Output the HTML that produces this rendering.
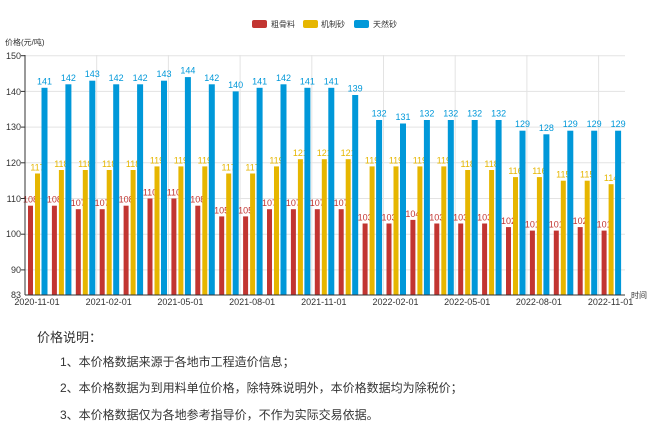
<!DOCTYPE html>
<html><head><meta charset="utf-8"><style>
body{margin:0;background:#fff;width:650px;height:430px;overflow:hidden;font-family:"Liberation Sans","Noto Sans CJK SC",sans-serif}
svg{position:absolute;left:0;top:0}
.t{position:absolute;color:#333;font-family:"Liberation Sans","Noto Sans CJK SC",sans-serif}
</style></head><body>
<svg width="650" height="320" font-family="Liberation Sans, Noto Sans CJK SC, sans-serif">
<rect x="252" y="20" width="15" height="8" rx="2" fill="#c23531"/><text x="271" y="27" font-size="8" fill="#333">粗骨料</text>
<rect x="303" y="20" width="15" height="8" rx="2" fill="#e6b600"/><text x="321" y="27" font-size="8" fill="#333">机制砂</text>
<rect x="354" y="20" width="15" height="8" rx="2" fill="#0098d9"/><text x="373" y="27" font-size="8" fill="#333">天然砂</text>
<text x="5" y="45" font-size="8" fill="#333">价格(元/吨)</text>
<g stroke="#e3e3e3" stroke-width="1">
<line x1="25" x2="625" y1="55.7" y2="55.7"/><line x1="25" x2="625" y1="91.4" y2="91.4"/><line x1="25" x2="625" y1="127.1" y2="127.1"/><line x1="25" x2="625" y1="162.8" y2="162.8"/><line x1="25" x2="625" y1="198.5" y2="198.5"/><line x1="25" x2="625" y1="234.2" y2="234.2"/><line x1="25" x2="625" y1="269.9" y2="269.9"/>
<line x1="96.7" x2="96.7" y1="55" y2="295"/><line x1="168.4" x2="168.4" y1="55" y2="295"/><line x1="240.1" x2="240.1" y1="55" y2="295"/><line x1="311.8" x2="311.8" y1="55" y2="295"/><line x1="383.5" x2="383.5" y1="55" y2="295"/><line x1="455.2" x2="455.2" y1="55" y2="295"/><line x1="526.9" x2="526.9" y1="55" y2="295"/><line x1="598.6" x2="598.6" y1="55" y2="295"/>
</g>
<g font-size="9" fill="#333" text-anchor="end">
<text x="21" y="59">150</text><text x="21" y="95">140</text><text x="21" y="130">130</text><text x="21" y="166">120</text><text x="21" y="202">110</text><text x="21" y="237">100</text><text x="21" y="273">90</text><text x="21" y="298">83</text>
</g>
<g font-size="9" fill="#333" text-anchor="middle">
<text x="37" y="305">2020-11-01</text><text x="108.7" y="305">2021-02-01</text><text x="180.4" y="305">2021-05-01</text><text x="252.1" y="305">2021-08-01</text><text x="323.8" y="305">2021-11-01</text><text x="395.5" y="305">2022-02-01</text><text x="467.2" y="305">2022-05-01</text><text x="538.9" y="305">2022-08-01</text><text x="610.6" y="305">2022-11-01</text>
</g>
<text x="631" y="298" font-size="8" fill="#333">时间</text>
<!-- red -->
<g fill="#c23531">
<rect x="28" y="205.7" width="5" height="89.3"/><rect x="51.9" y="205.7" width="5" height="89.3"/><rect x="75.8" y="209.2" width="5" height="85.8"/><rect x="99.7" y="209.2" width="5" height="85.8"/><rect x="123.6" y="205.7" width="5" height="89.3"/><rect x="147.5" y="198.5" width="5" height="96.5"/><rect x="171.4" y="198.5" width="5" height="96.5"/><rect x="195.3" y="205.7" width="5" height="89.3"/><rect x="219.2" y="216.4" width="5" height="78.6"/><rect x="243.1" y="216.4" width="5" height="78.6"/><rect x="267" y="209.2" width="5" height="85.8"/><rect x="290.9" y="209.2" width="5" height="85.8"/><rect x="314.8" y="209.2" width="5" height="85.8"/><rect x="338.7" y="209.2" width="5" height="85.8"/><rect x="362.6" y="223.5" width="5" height="71.5"/><rect x="386.5" y="223.5" width="5" height="71.5"/><rect x="410.4" y="219.9" width="5" height="75.1"/><rect x="434.3" y="223.5" width="5" height="71.5"/><rect x="458.2" y="223.5" width="5" height="71.5"/><rect x="482.1" y="223.5" width="5" height="71.5"/><rect x="506" y="227.1" width="5" height="67.9"/><rect x="529.9" y="230.6" width="5" height="64.4"/><rect x="553.8" y="230.6" width="5" height="64.4"/><rect x="577.7" y="227.1" width="5" height="67.9"/><rect x="601.6" y="230.6" width="5" height="64.4"/>
</g>
<g fill="#c23531" font-size="9" text-anchor="middle">
<text x="30.5" y="202.7">108</text><text x="54.4" y="202.7">108</text><text x="78.3" y="206.2">107</text><text x="102.2" y="206.2">107</text><text x="126.1" y="202.7">108</text><text x="150" y="195.5">110</text><text x="173.9" y="195.5">110</text><text x="197.8" y="202.7">108</text><text x="221.7" y="213.4">105</text><text x="245.6" y="213.4">105</text><text x="269.5" y="206.2">107</text><text x="293.4" y="206.2">107</text><text x="317.3" y="206.2">107</text><text x="341.2" y="206.2">107</text><text x="365.1" y="220.5">103</text><text x="389" y="220.5">103</text><text x="412.9" y="216.9">104</text><text x="436.8" y="220.5">103</text><text x="460.7" y="220.5">103</text><text x="484.6" y="220.5">103</text><text x="508.5" y="224.1">102</text><text x="532.4" y="227.6">101</text><text x="556.3" y="227.6">101</text><text x="580.2" y="224.1">102</text><text x="604.1" y="227.6">101</text>
</g>
<!-- yellow -->
<g fill="#e6b600">
<rect x="35" y="173.5" width="5" height="121.5"/><rect x="58.9" y="170" width="5" height="125"/><rect x="82.8" y="170" width="5" height="125"/><rect x="106.7" y="170" width="5" height="125"/><rect x="130.6" y="170" width="5" height="125"/><rect x="154.5" y="166.4" width="5" height="128.6"/><rect x="178.4" y="166.4" width="5" height="128.6"/><rect x="202.3" y="166.4" width="5" height="128.6"/><rect x="226.2" y="173.5" width="5" height="121.5"/><rect x="250.1" y="173.5" width="5" height="121.5"/><rect x="274" y="166.4" width="5" height="128.6"/><rect x="297.9" y="159.2" width="5" height="135.8"/><rect x="321.8" y="159.2" width="5" height="135.8"/><rect x="345.7" y="159.2" width="5" height="135.8"/><rect x="369.6" y="166.4" width="5" height="128.6"/><rect x="393.5" y="166.4" width="5" height="128.6"/><rect x="417.4" y="166.4" width="5" height="128.6"/><rect x="441.3" y="166.4" width="5" height="128.6"/><rect x="465.2" y="170" width="5" height="125"/><rect x="489.1" y="170" width="5" height="125"/><rect x="513" y="177.1" width="5" height="117.9"/><rect x="536.9" y="177.1" width="5" height="117.9"/><rect x="560.8" y="180.7" width="5" height="114.3"/><rect x="584.7" y="180.7" width="5" height="114.3"/><rect x="608.6" y="184.2" width="5" height="110.8"/>
</g>
<g fill="#e6b600" font-size="9" text-anchor="middle">
<text x="37.5" y="170.5">117</text><text x="61.4" y="167">118</text><text x="85.3" y="167">118</text><text x="109.2" y="167">118</text><text x="133.1" y="167">118</text><text x="157" y="163.4">119</text><text x="180.9" y="163.4">119</text><text x="204.8" y="163.4">119</text><text x="228.7" y="170.5">117</text><text x="252.6" y="170.5">117</text><text x="276.5" y="163.4">119</text><text x="300.4" y="156.2">121</text><text x="324.3" y="156.2">121</text><text x="348.2" y="156.2">121</text><text x="372.1" y="163.4">119</text><text x="396" y="163.4">119</text><text x="419.9" y="163.4">119</text><text x="443.8" y="163.4">119</text><text x="467.7" y="167">118</text><text x="491.6" y="167">118</text><text x="515.5" y="174.1">116</text><text x="539.4" y="174.1">116</text><text x="563.3" y="177.7">115</text><text x="587.2" y="177.7">115</text><text x="611.1" y="181.2">114</text>
</g>
<!-- blue -->
<g fill="#0098d9">
<rect x="41.5" y="87.8" width="6" height="207.2"/><rect x="65.4" y="84.3" width="6" height="210.7"/><rect x="89.3" y="80.7" width="6" height="214.3"/><rect x="113.2" y="84.3" width="6" height="210.7"/><rect x="137.1" y="84.3" width="6" height="210.7"/><rect x="161" y="80.7" width="6" height="214.3"/><rect x="184.9" y="77.1" width="6" height="217.9"/><rect x="208.8" y="84.3" width="6" height="210.7"/><rect x="232.7" y="91.4" width="6" height="203.6"/><rect x="256.6" y="87.8" width="6" height="207.2"/><rect x="280.5" y="84.3" width="6" height="210.7"/><rect x="304.4" y="87.8" width="6" height="207.2"/><rect x="328.3" y="87.8" width="6" height="207.2"/><rect x="352.2" y="95" width="6" height="200"/><rect x="376.1" y="120" width="6" height="175"/><rect x="400" y="123.5" width="6" height="171.5"/><rect x="423.9" y="120" width="6" height="175"/><rect x="447.8" y="120" width="6" height="175"/><rect x="471.7" y="120" width="6" height="175"/><rect x="495.6" y="120" width="6" height="175"/><rect x="519.5" y="130.7" width="6" height="164.3"/><rect x="543.4" y="134.3" width="6" height="160.7"/><rect x="567.3" y="130.7" width="6" height="164.3"/><rect x="591.2" y="130.7" width="6" height="164.3"/><rect x="615.1" y="130.7" width="6" height="164.3"/>
</g>
<g fill="#0098d9" font-size="9" text-anchor="middle">
<text x="44.5" y="84.3">141</text><text x="68.4" y="80.8">142</text><text x="92.3" y="77.2">143</text><text x="116.2" y="80.8">142</text><text x="140.1" y="80.8">142</text><text x="164" y="77.2">143</text><text x="187.9" y="73.6">144</text><text x="211.8" y="80.8">142</text><text x="235.7" y="87.9">140</text><text x="259.6" y="84.3">141</text><text x="283.5" y="80.8">142</text><text x="307.4" y="84.3">141</text><text x="331.3" y="84.3">141</text><text x="355.2" y="91.5">139</text><text x="379.1" y="116.5">132</text><text x="403" y="120">131</text><text x="426.9" y="116.5">132</text><text x="450.8" y="116.5">132</text><text x="474.7" y="116.5">132</text><text x="498.6" y="116.5">132</text><text x="522.5" y="127.2">129</text><text x="546.4" y="130.8">128</text><text x="570.3" y="127.2">129</text><text x="594.2" y="127.2">129</text><text x="618.1" y="127.2">129</text>
</g>
<line x1="25" x2="25" y1="55" y2="295" stroke="#333" stroke-width="1"/>
<line x1="25" x2="625" y1="295" y2="295" stroke="#333" stroke-width="1"/>
<g stroke="#333"><line x1="21" x2="25" y1="55.7" y2="55.7"/><line x1="21" x2="25" y1="91.4" y2="91.4"/><line x1="21" x2="25" y1="127.1" y2="127.1"/><line x1="21" x2="25" y1="162.8" y2="162.8"/><line x1="21" x2="25" y1="198.5" y2="198.5"/><line x1="21" x2="25" y1="234.2" y2="234.2"/><line x1="21" x2="25" y1="269.9" y2="269.9"/></g>
</svg>
<div class="t" style="left:37px;top:327px;font-size:13px">价格说明：</div>
<div class="t" style="left:60px;top:353px;font-size:12px">1、本价格数据来源于各地市工程造价信息；</div>
<div class="t" style="left:60px;top:379px;font-size:12px">2、本价格数据为到用料单位价格，除特殊说明外，本价格数据均为除税价；</div>
<div class="t" style="left:60px;top:406px;font-size:12px">3、本价格数据仅为各地参考指导价，不作为实际交易依据。</div>
</body></html>
